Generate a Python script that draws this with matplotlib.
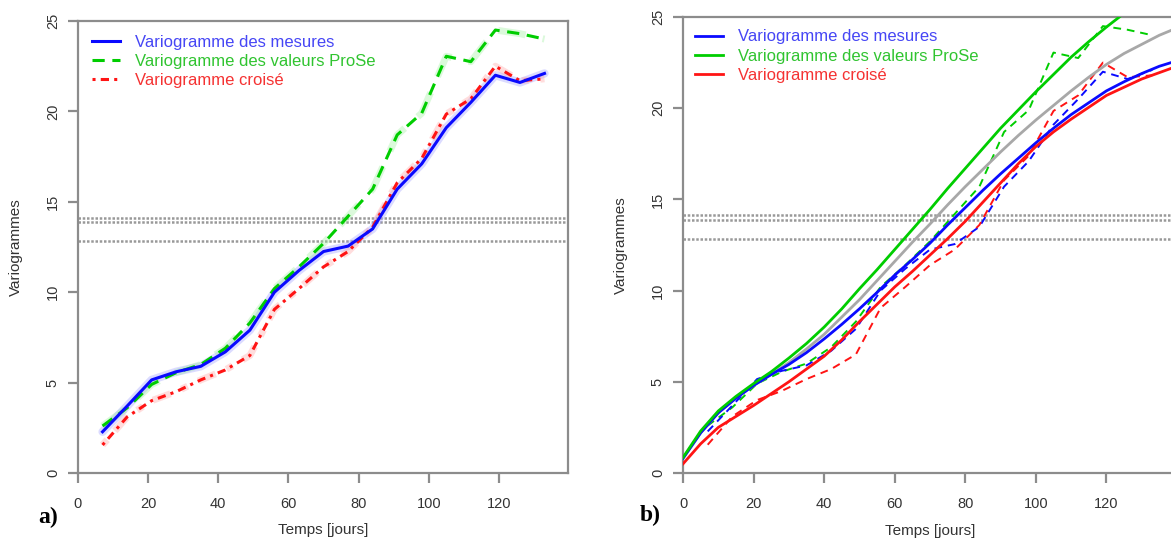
import matplotlib
matplotlib.use('Agg')
import matplotlib.pyplot as plt

plt.rcParams['font.family'] = ['Liberation Sans', 'DejaVu Sans']

# ---------------- data ----------------
lags = [7, 14, 21, 28, 35, 42, 49, 56, 63, 70, 77, 84, 91, 98, 105, 112, 119, 126, 133]
gamma_mesures = [2.28, 3.7, 5.15, 5.6, 5.9, 6.7, 7.9, 10.0, 11.2, 12.25, 12.55, 13.5,
                 15.7, 17.1, 19.1, 20.5, 22.0, 21.6, 22.1]
gamma_prose = [2.6, 3.6, 4.9, 5.55, 6.0, 6.9, 8.3, 10.2, 11.4, 12.7, 14.2, 15.7,
               18.7, 19.9, 23.05, 22.75, 24.5, 24.3, 24.0]
gamma_croise = [1.55, 3.1, 4.0, 4.5, 5.15, 5.7, 6.5, 9.05, 10.2, 11.4, 12.25, 13.6,
                16.05, 17.4, 19.85, 20.7, 22.5, 21.7, 21.8]

model_x = [0, 5, 10, 15, 20, 25, 30, 35, 40, 45, 50, 55, 60, 65, 70, 75, 80, 85, 90,
           95, 100, 105, 110, 115, 120, 125, 130, 135, 140]
model_prose = [0.85, 2.3, 3.4, 4.2, 4.9, 5.55, 6.3, 7.1, 8.0, 9.0, 10.1, 11.15, 12.25, 13.35,
               14.45, 15.6, 16.7, 17.8, 18.9, 19.9, 20.9, 21.85, 22.8, 23.65, 24.45, 25.2,
               25.9, 26.6, 27.2]
model_gris = [0.8, 2.2, 3.3, 4.1, 4.8, 5.4, 6.05, 6.8, 7.6, 8.55, 9.5, 10.55, 11.6, 12.65,
              13.65, 14.7, 15.7, 16.65, 17.6, 18.5, 19.35, 20.15, 20.95, 21.7, 22.4, 23.0,
              23.5, 24.0, 24.4]
model_mesures = [0.8, 2.2, 3.3, 4.1, 4.8, 5.4, 5.95, 6.6, 7.35, 8.15, 9.0, 9.9, 10.85, 11.7,
                 12.6, 13.6, 14.55, 15.5, 16.4, 17.25, 18.1, 18.9, 19.65, 20.3, 20.95, 21.45,
                 21.9, 22.3, 22.6]
model_croise = [0.5, 1.6, 2.5, 3.1, 3.7, 4.35, 5.0, 5.7, 6.4, 7.3, 8.3, 9.25, 10.2, 11.05,
                11.95, 12.85, 13.8, 14.85, 15.9, 16.95, 17.9, 18.7, 19.4, 20.05, 20.7, 21.15,
                21.6, 21.95, 22.3]

ref_levels = [14.13, 13.87, 12.84]

legend_labels = ["Variogramme des mesures", "Variogramme des valeurs ProSe", "Variogramme croisé"]
xticks = [0, 20, 40, 60, 80, 100, 120]
yticks = [0, 5, 10, 15, 20, 25]

# ---------------- style ----------------
BLUE, GREEN, RED, GREY = '#0a0aff', '#00cd00', '#ff1414', '#a8a8a8'
TXT_COLORS = ['#4646f5', '#30c430', '#f53232']
W, H = 1171, 551

fig = plt.figure(figsize=(W / 100, H / 100), dpi=100)
axA = fig.add_axes([78 / W, 78 / H, 490 / W, 452 / H])
axB = fig.add_axes([683 / W, 78 / H, 494 / W, 456 / H])


def style(ax, xmax, w_px):
    ax.set_xlim(0, xmax)
    ax.set_ylim(0, 25)
    for s in ax.spines.values():
        s.set_color('#8c8c8c')
        s.set_linewidth(1.6)
    ax.set_xticks(xticks)
    ax.set_yticks(yticks)
    ax.tick_params(axis='both', colors='#8c8c8c', labelcolor='#333333',
                   length=7, width=1.6, labelsize=10.5)
    ax.tick_params(axis='x', pad=10)
    ax.tick_params(axis='y', pad=6, labelrotation=90)
    for lab in ax.get_yticklabels():
        lab.set_va('center')
    ax.set_xlabel('Temps [jours]', fontsize=11, color='#333333')
    ax.xaxis.set_label_coords(0.5, -57 / 452)
    ax.xaxis.label.set_va('center')
    ax.set_ylabel('Variogrammes', fontsize=11, color='#333333')
    ax.yaxis.set_label_coords(-62 / w_px, 0.5)
    ax.yaxis.label.set_va('center')
    for lv in ref_levels:
        ax.axhline(lv, color='#999999', lw=1.8, ls=(0, (1, 0.7)), zorder=1)


style(axA, 139.7, 490)
style(axB, 140.0, 494)

# ---- panel a ----
axA.plot(lags, gamma_mesures, color='#9a9aff', lw=6, alpha=0.35, solid_capstyle='round', zorder=2)
axA.plot(lags, gamma_prose, color='#9aee9a', lw=5, alpha=0.35, ls=(0, (4, 2.5)), zorder=2)
axA.plot(lags, gamma_croise, color='#ffa0a0', lw=5, alpha=0.35, ls=(0, (1, 1.7, 2.7, 1.7)), zorder=2)
la1, = axA.plot(lags, gamma_mesures, color=BLUE, lw=2.2, zorder=4, label=legend_labels[0])
la2, = axA.plot(lags, gamma_prose, color=GREEN, lw=2.2, ls=(0, (4, 2.5)), zorder=3, label=legend_labels[1])
la3, = axA.plot(lags, gamma_croise, color=RED, lw=2.2, ls=(0, (1, 1.7, 2.7, 1.7)), zorder=3, label=legend_labels[2])

# ---- panel b ----
dash_b = (0, (4, 3))
axB.plot(lags, gamma_prose, color=GREEN, lw=1.4, ls=dash_b, zorder=2)
axB.plot(lags, gamma_mesures, color=BLUE, lw=1.4, ls=dash_b, zorder=2)
axB.plot(lags, gamma_croise, color=RED, lw=1.4, ls=dash_b, zorder=2)
axB.plot(model_x, model_gris, color=GREY, lw=2.0, zorder=3)
lb1, = axB.plot(model_x, model_mesures, color=BLUE, lw=2.0, zorder=4, label=legend_labels[0])
lb2, = axB.plot(model_x, model_prose, color=GREEN, lw=2.0, zorder=4, label=legend_labels[1])
lb3, = axB.plot(model_x, model_croise, color=RED, lw=2.0, zorder=4, label=legend_labels[2])


def add_legend(ax, handles, w_px, h_px, left_px, top_px):
    leg = ax.legend(handles=handles, loc='upper left',
                    bbox_to_anchor=(left_px / w_px, 1 - top_px / h_px),
                    frameon=False, fontsize=12, handlelength=1.7, handletextpad=0.9,
                    labelspacing=0.25, borderaxespad=0, borderpad=0)
    for t, c in zip(leg.get_texts(), TXT_COLORS):
        t.set_color(c)


add_legend(axA, [la1, la2, la3], 490, 452, 14, 13.5)
add_legend(axB, [lb1, lb2, lb3], 494, 456, 12, 12.5)

fig.text(48 / W, 1 - 517 / H, 'a)', fontsize=17, fontweight='bold',
         family='Liberation Serif', ha='center', va='center')
fig.text(650 / W, 1 - 515 / H, 'b)', fontsize=17, fontweight='bold',
         family='Liberation Serif', ha='center', va='center')

fig.savefig('out.png', dpi=100)
